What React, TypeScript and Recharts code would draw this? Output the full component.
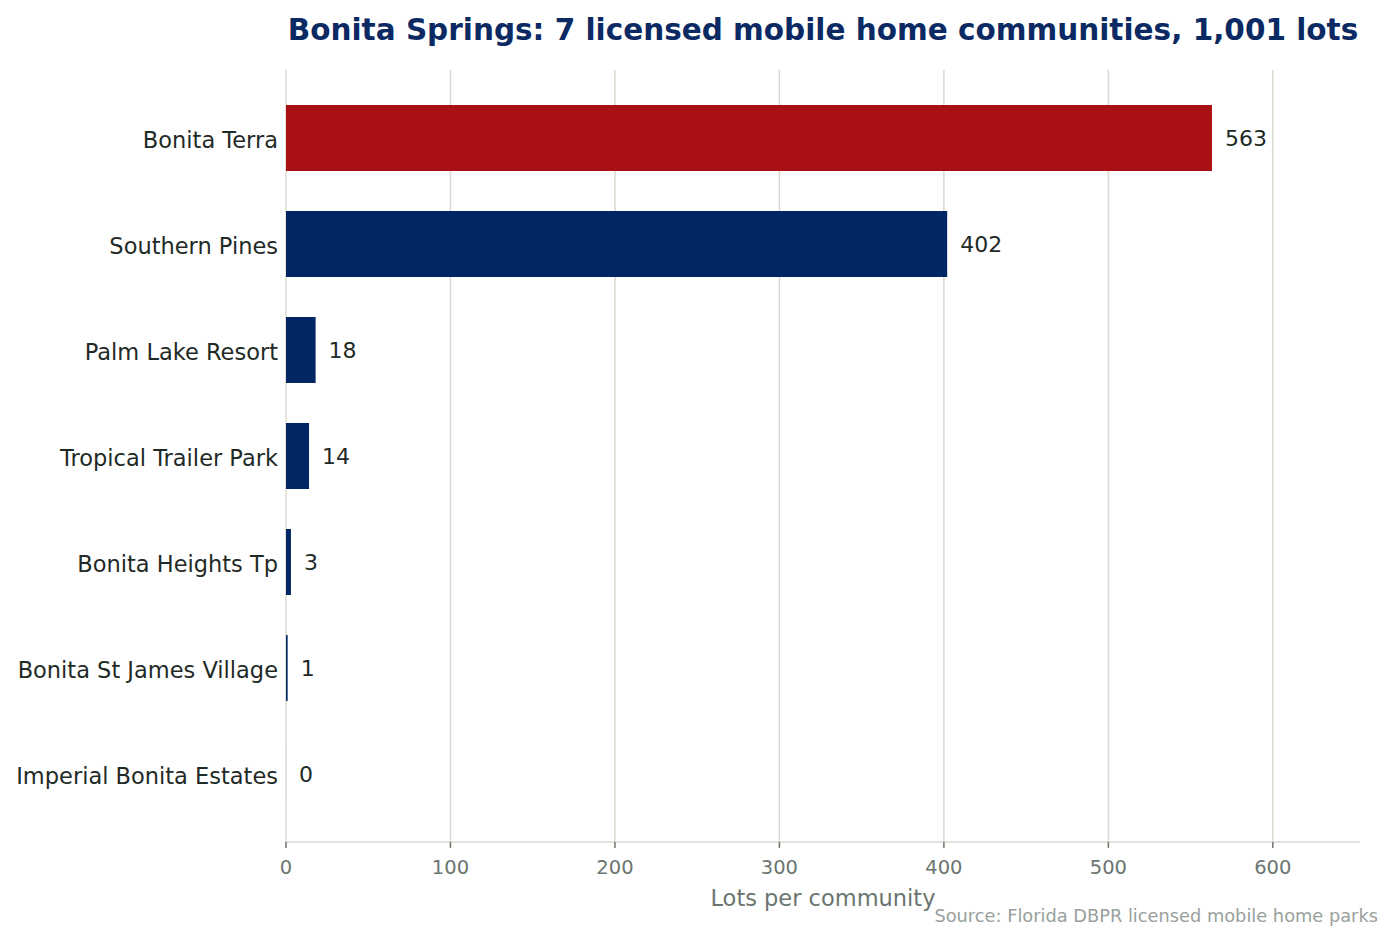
import React from 'react';
import { BarChart, Bar, XAxis, YAxis, CartesianGrid, LabelList, Cell } from 'recharts';

const communities = [
  'Bonita Terra',
  'Southern Pines',
  'Palm Lake Resort',
  'Tropical Trailer Park',
  'Bonita Heights Tp',
  'Bonita St James Village',
  'Imperial Bonita Estates',
];
const lots = [563, 402, 18, 14, 3, 1, 0];
const xTicks = [0, 100, 200, 300, 400, 500, 600];
const xMax = 653;
const highlight = 'Bonita Terra';

const data = communities.map((name, i) => ({ name, lots: lots[i] }));

const FONT = '"DejaVu Sans", sans-serif';
const NAVY = '#002664';
const RED = '#a81014';
const GRID = '#dcd8d0';
const TICK = '#6b7570';

const gridX = (props: any) => {
  const s = props && props.xAxis ? props.xAxis.scale : undefined;
  return xTicks.map((t) => {
    if (typeof s === 'function') return s(t);
    if (s && typeof s.map === 'function') return s.map(t);
    const off = props.offset || {};
    return off.left + (t / xMax) * off.width;
  });
};

export default function App() {
  return (
    <div style={{ position: 'absolute', left: 0, top: 0, width: 1395, height: 942, background: '#fff', fontFamily: FONT }}>
      <div
        style={{
          position: 'absolute',
          left: 286,
          width: 1074,
          top: 11,
          textAlign: 'center',
          fontSize: 29.5,
          fontWeight: 'bold',
          color: '#0b2a63',
          whiteSpace: 'nowrap',
          lineHeight: '38px',
        }}
      >
        Bonita Springs: 7 licensed mobile home communities, 1,001 lots
      </div>
      <BarChart
        width={1395}
        height={942}
        data={data}
        layout="vertical"
        margin={{ top: 70, right: 35, bottom: 40, left: 0 }}
      >
        <CartesianGrid
          horizontal={false}
          vertical
          stroke={GRID}
          strokeWidth={1.5}
          verticalCoordinatesGenerator={gridX}
        />
        <XAxis
          type="number"
          dataKey="lots"
          domain={[0, xMax]}
          ticks={xTicks}
          allowDataOverflow
          height={60}
          axisLine={{ stroke: GRID, strokeWidth: 1.5 }}
          tickLine={{ stroke: TICK, strokeWidth: 1.5 }}
          tickSize={6}
          tickMargin={12}
          tick={{ fill: TICK, fontSize: 19.5, fontFamily: FONT }}
          label={{ value: 'Lots per community', position: 'insideBottom', offset: -4, fill: TICK, fontSize: 22.5, fontFamily: FONT }}
        />
        <YAxis
          type="category"
          dataKey="name"
          width={286}
          padding={{ top: 15, bottom: 15 }}
          axisLine={false}
          tickLine={false}
          tickSize={0}
          tickMargin={8}
          interval={0}
          tick={{ fill: '#1f2a26', fontSize: 22.5, fontFamily: FONT, dy: 2 }}
        />
        <Bar
          dataKey="lots"
          barSize={66}
          minPointSize={(v: number) => (v === 0 ? 0.01 : 0)}
          isAnimationActive={false}
        >
          {data.map((d) => (
            <Cell key={d.name} fill={d.name === highlight ? RED : NAVY} />
          ))}
          <LabelList dataKey="lots" position="right" offset={13} fill="#1f2a26" fontSize={22} fontFamily={FONT} />
        </Bar>
      </BarChart>
      <div
        style={{
          position: 'absolute',
          right: 17,
          top: 905,
          fontSize: 17.8,
          color: '#999f9c',
          whiteSpace: 'nowrap',
          lineHeight: '22px',
        }}
      >
        Source: Florida DBPR licensed mobile home parks
      </div>
    </div>
  );
}
